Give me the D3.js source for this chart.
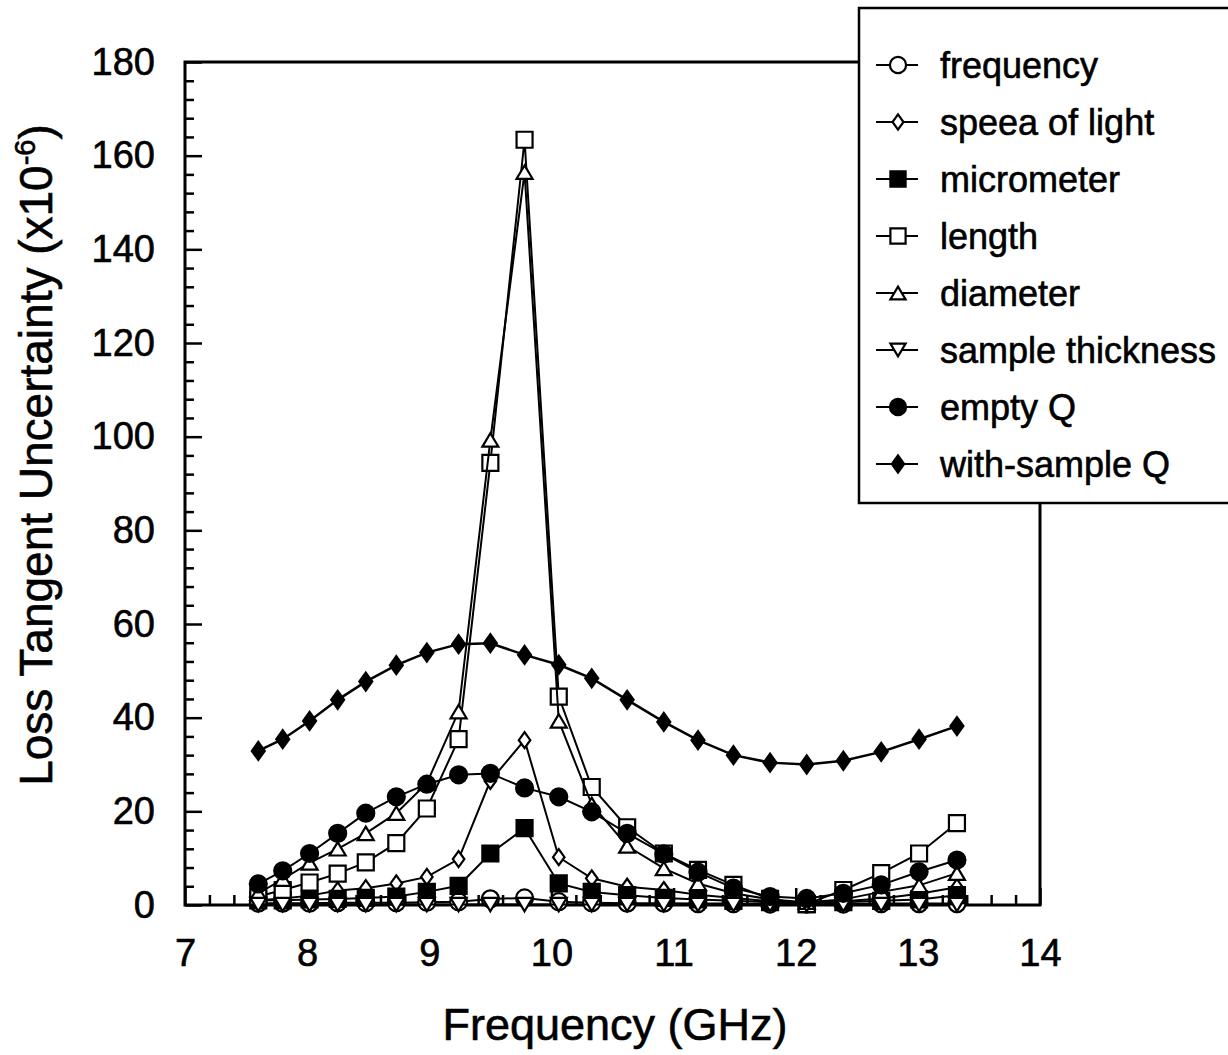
<!DOCTYPE html>
<html>
<head>
<meta charset="utf-8">
<script src="https://cdn.jsdelivr.net/npm/d3@7"></script>
<style>
  body { margin: 0; background: #fff; }
  text { font-family: "Liberation Sans", Arial, sans-serif; fill: #000; stroke: #000; stroke-width: 0.6px; }
</style>
</head>
<body>
<svg id="chart" width="1228" height="1055"></svg>
<script>
// frequencies (GHz) of the measured points
const freq = [7.6, 7.8, 8.02, 8.25, 8.48, 8.73, 8.98, 9.24, 9.5, 9.78, 10.06, 10.33, 10.62, 10.92, 11.2, 11.49, 11.79, 12.09, 12.39, 12.7, 13.01, 13.32]

// loss tangent uncertainty contributions (x10^-6)
const frequencyErr = [0.4, 0.4, 0.4, 0.5, 0.5, 0.5, 0.6, 0.7, 1.3, 1.5, 0.7, 0.5, 0.4, 0.4, 0.3, 0.3, 0.2, 0.2, 0.2, 0.3, 0.3, 0.3]
const speedErr = [1.0, 1.4, 2.0, 3.1, 3.6, 4.6, 6.0, 9.8, 26.5, 35.2, 10.2, 5.7, 3.9, 3.2, 2.2, 1.5, 0.8, 0.5, 0.8, 1.4, 2.4, 3.8]
const micrometerErr = [1.0, 1.0, 1.2, 1.3, 1.5, 1.8, 2.8, 4.1, 11.0, 16.4, 4.6, 2.8, 2.1, 1.5, 1.2, 0.9, 0.6, 0.2, 0.6, 0.9, 1.2, 2.1]
const lengthErr = [1.8, 3.2, 4.8, 6.7, 9.1, 13.2, 20.6, 35.4, 94.4, 163.4, 44.5, 25.2, 16.6, 11.0, 7.5, 4.3, 1.3, 0.2, 3.2, 6.8, 11.0, 17.5]
const diameterErr = [2.5, 5.5, 9.0, 12.0, 15.3, 19.6, 26.0, 41.3, 99.3, 156.5, 39.3, 21.5, 12.6, 7.8, 4.6, 2.5, 1.2, 0.6, 1.2, 2.8, 4.2, 6.8]
const thicknessErr = [0.1, 0.1, 0.1, 0.1, 0.1, 0.1, 0.1, 0.1, 0.1, 0.1, 0.1, 0.1, 0.1, 0.1, 0.1, 0.1, 0.1, 0.1, 0.1, 0.1, 0.1, 0.1]
const emptyQErr = [4.5, 7.3, 11.0, 15.3, 19.6, 23.1, 25.8, 27.8, 28.1, 25.0, 23.1, 19.9, 15.3, 10.9, 7.0, 3.6, 1.8, 1.4, 2.5, 4.3, 7.1, 9.6]
const sampleQErr = [32.9, 35.4, 39.3, 43.8, 47.7, 51.2, 53.9, 55.7, 55.9, 53.4, 51.3, 48.4, 43.8, 39.1, 35.2, 32.0, 30.4, 30.0, 30.8, 32.7, 35.4, 38.2]

const seriesNames = ['frequency', 'speea of light', 'micrometer', 'length', 'diameter', 'sample thickness', 'empty Q', 'with-sample Q']
const seriesValues = [frequencyErr, speedErr, micrometerErr, lengthErr, diameterErr, thicknessErr, emptyQErr, sampleQErr]
const seriesMarks = ['circleOpen', 'diamondOpen', 'squareFilled', 'squareOpen', 'triUp', 'triDown', 'circleFilled', 'diamondFilled']

const xTicks = [7, 8, 9, 10, 11, 12, 13, 14]
const yTicks = [0, 20, 40, 60, 80, 100, 120, 140, 160, 180]

const svg = d3.select('#chart')

const x = d3.scaleLinear().domain([7, 14]).range([185, 1040])
const y = d3.scaleLinear().domain([0, 180]).range([905, 62])

/**
 * path string of a marker centred on 0,0
 */
function markerPath(kind, s){
    if (kind.startsWith('circle')) {
        return d3.symbol(d3.symbolCircle, Math.PI * s * s / 4)()
    }
    if (kind.startsWith('square')) {
        const h = s / 2
        return `M${-h},${-h}H${h}V${h}H${-h}Z`
    }
    if (kind.startsWith('diamond')) {
        const w = s * 0.36, h = s * 0.5
        return `M0,${-h}L${w},0L0,${h}L${-w},0Z`
    }
    if (kind === 'triUp') {
        const h = s * 0.42
        return `M0,${-h}L${s / 2},${h}L${-s / 2},${h}Z`
    }
    // triDown
    const h = s * 0.42
    return `M0,${h}L${s / 2},${-h}L${-s / 2},${-h}Z`
}

function markerSize(kind){
    if (kind === 'diamondFilled') return 18
    if (kind === 'diamondOpen') return 16
    if (kind.startsWith('square')) return 16
    if (kind.startsWith('circle')) return 17
    return 16
}

function appendMarker(sel, kind, scale){
    sel.append('path')
        .attr('d', markerPath(kind, markerSize(kind) * scale))
        .attr('fill', kind.endsWith('Filled') ? '#000' : '#fff')
        .attr('stroke', '#000')
        .attr('stroke-width', 2.2)
}

// axes, ticks pointing inward
const yAxis = d3.axisLeft(y)
    .tickValues(yTicks)
    .tickSize(-17)
    .tickPadding(30)
    .tickFormat(d3.format('d'))
const yMinor = d3.axisLeft(y)
    .tickValues(d3.range(0, 181, 4).filter(v => v % 20 !== 0))
    .tickSize(-9)
    .tickFormat('')

svg.append('g')
    .attr('transform', 'translate(185,0)')
    .call(yMinor)
svg.append('g')
    .attr('id', 'yAxis')
    .attr('transform', 'translate(185,0)')
    .call(yAxis)

const xAxis = d3.axisBottom(x)
    .tickValues(xTicks)
    .tickSize(-17)
    .tickPadding(34)
    .tickFormat(d3.format('d'))
const xMinor = d3.axisBottom(x)
    .tickValues(d3.range(7.2, 14, 0.2).filter(v => Math.abs(v - Math.round(v)) > 0.05))
    .tickSize(-10)
    .tickFormat('')

svg.append('g')
    .attr('transform', 'translate(0,905)')
    .call(xMinor)
svg.append('g')
    .attr('id', 'xAxis')
    .attr('transform', 'translate(0,905)')
    .call(xAxis)

svg.selectAll('.domain').remove()
svg.selectAll('.tick line').attr('stroke', '#000').attr('stroke-width', 2.5)
svg.selectAll('.tick text')
    .style('font-size', '38px')
    .style('font-family', '"Liberation Sans", Arial, sans-serif')
    .attr('fill', '#000')

// frame
svg.append('rect')
    .attr('x', x(7)).attr('y', y(180))
    .attr('width', x(14) - x(7)).attr('height', y(0) - y(180))
    .attr('fill', 'none')
    .attr('stroke', '#000')
    .attr('stroke-width', 3)

// axis titles
svg.append('text')
    .attr('x', 615).attr('y', 1040)
    .attr('text-anchor', 'middle')
    .style('font-size', '45px')
    .text('Frequency (GHz)')

const yTitle = svg.append('text')
    .attr('transform', 'translate(52,455) rotate(-90)')
    .attr('text-anchor', 'middle')
    .style('font-size', '46px')
yTitle.append('tspan').text('Loss Tangent Uncertainty (x10')
yTitle.append('tspan').attr('dy', -17).style('font-size', '29px').text('-6')
yTitle.append('tspan').attr('dy', 17).text(')')

// series lines then markers
const line = d3.line()
    .x((d, i) => x(freq[i]))
    .y(d => y(d))

seriesValues.forEach((vals, k) => {
    const g = svg.append('g').attr('class', 'series')
    g.append('path')
        .datum(vals)
        .attr('d', line)
        .attr('fill', 'none')
        .attr('stroke', '#000')
        .attr('stroke-width', k === 7 ? 2.5 : 2)
    g.selectAll('g.pt')
        .data(vals)
        .enter().append('g')
        .attr('class', 'pt')
        .attr('transform', (d, i) => `translate(${x(freq[i])},${y(d)})`)
        .each(function(){ appendMarker(d3.select(this), seriesMarks[k], 1) })
})

// legend
const legend = svg.append('g').attr('id', 'legend')
legend.append('rect')
    .attr('x', 859).attr('y', 8)
    .attr('width', 400).attr('height', 495)
    .attr('fill', '#fff')
    .attr('stroke', '#000')
    .attr('stroke-width', 2.5)

seriesNames.forEach((name, k) => {
    const row = legend.append('g')
        .attr('transform', `translate(898,${65 + k * 57})`)
    row.append('line')
        .attr('x1', -22).attr('x2', 20)
        .attr('stroke', '#000').attr('stroke-width', 2)
    appendMarker(row, seriesMarks[k], 0.95)
    row.append('text')
        .attr('x', 42).attr('dy', '0.35em')
        .style('font-size', '36px')
        .text(name)
})
</script>
</body>
</html>
